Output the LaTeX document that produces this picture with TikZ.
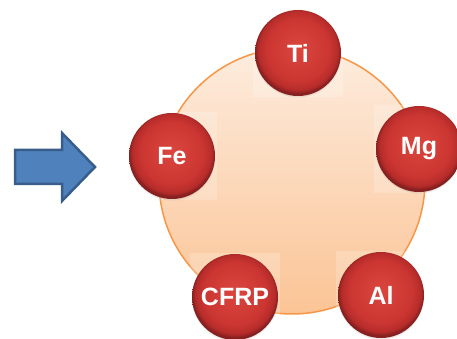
\documentclass[tikz,border=0pt]{standalone}
\usepackage{fontspec}
\setmainfont{Liberation Sans}
\usetikzlibrary{shadows}
\definecolor{arrowfill}{RGB}{79,129,189}
\definecolor{arrowline}{RGB}{56,93,138}
\definecolor{peachtop}{RGB}{253,236,222}
\definecolor{peachbot}{RGB}{251,196,150}
\definecolor{ringorange}{RGB}{247,150,70}
\definecolor{ballhi}{RGB}{218,70,62}
\definecolor{ballmid}{RGB}{204,54,50}
\definecolor{ballrim}{RGB}{182,44,42}
\definecolor{balledge}{RGB}{135,32,32}
\pgfdeclareradialshading{redball}{\pgfpoint{0bp}{3bp}}{%
  color(0bp)=(ballhi); color(18bp)=(ballmid); color(23bp)=(ballrim);
  color(25bp)=(balledge); color(50bp)=(balledge)}
\tikzset{
  ball/.style={circle, minimum size=86pt, inner sep=0pt, shading=redball,
    text=white, font=\fontsize{25}{25}\selectfont\bfseries,
    drop shadow={shadow xshift=0pt, shadow yshift=-1.5pt, opacity=0.15}},
  ballbg/.style={fill=white, opacity=0.2, minimum width=90pt, minimum height=88pt, inner sep=0pt},
  ring/.style={circle, minimum size=266pt, inner sep=0pt, top color=peachtop,
    bottom color=peachbot, draw=ringorange, line width=1.5pt},
  bigarrow/.style={fill=arrowfill, draw=arrowline, line width=2.5pt, line join=miter}
}
\begin{document}
\begin{tikzpicture}[x=1pt,y=1pt]
\useasboundingbox (0,0) rectangle (457,339);
% pixel (x,y) -> (x, 339-y)
\node[ring] (ring) at (292,158) {};
\draw[bigarrow] (15,189) -- (62,189) -- (62,206) -- (95,172) -- (62,138) -- (62,155) -- (15,155) -- cycle;
\node[ballbg] (tibg) at (298,286) {};
\node[ballbg] (febg) at (172,183) {};
\node[ballbg] (mgbg) at (419,190) {};
\node[ballbg] (albg) at (381,44) {};
\node[ballbg] (cfrpbg) at (235,42) {};
\node[ball] (ti) at (298,286) {Ti};
\node[ball] (fe) at (172,183) {Fe};
\node[ball] (mg) at (419,190) {Mg};
\node[ball] (al) at (381,44) {Al};
\node[ball] (cfrp) at (235,42) {CFRP};
\end{tikzpicture}
\end{document}
